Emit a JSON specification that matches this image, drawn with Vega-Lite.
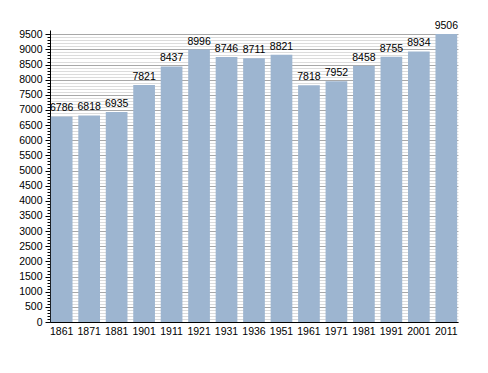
{
  "$schema": "https://vega.github.io/schema/vega-lite/v6.json",
  "autosize": "none",
  "width": 408,
  "height": 292,
  "padding": {"left": 50, "top": 30, "right": 30, "bottom": 51},
  "background": "white",
  "config": {"view": {"stroke": null}, "font": "Liberation Sans"},
  "data": {"values": [
    {"year": "1861", "pop": 6786},
    {"year": "1871", "pop": 6818},
    {"year": "1881", "pop": 6935},
    {"year": "1901", "pop": 7821},
    {"year": "1911", "pop": 8437},
    {"year": "1921", "pop": 8996},
    {"year": "1931", "pop": 8746},
    {"year": "1936", "pop": 8711},
    {"year": "1951", "pop": 8821},
    {"year": "1961", "pop": 7818},
    {"year": "1971", "pop": 7952},
    {"year": "1981", "pop": 8458},
    {"year": "1991", "pop": 8755},
    {"year": "2001", "pop": 8934},
    {"year": "2011", "pop": 9506}
  ]},
  "encoding": {
    "x": {"field": "year", "type": "ordinal", "sort": null,
      "scale": {"paddingInner": 0.21, "paddingOuter": 0.03},
      "axis": {"title": null, "labelAngle": 0, "labelFontSize": 10.5, "labelColor": "#000", "domainColor": "#000", "ticks": false, "labelPadding": 4}},
    "y": {"field": "pop", "type": "quantitative",
      "scale": {"domain": [0, 9640], "nice": false},
      "axis": {"title": null,
        "values": [0,100,200,300,400,500,600,700,800,900,1000,1100,1200,1300,1400,1500,1600,1700,1800,1900,2000,2100,2200,2300,2400,2500,2600,2700,2800,2900,3000,3100,3200,3300,3400,3500,3600,3700,3800,3900,4000,4100,4200,4300,4400,4500,4600,4700,4800,4900,5000,5100,5200,5300,5400,5500,5600,5700,5800,5900,6000,6100,6200,6300,6400,6500,6600,6700,6800,6900,7000,7100,7200,7300,7400,7500,7600,7700,7800,7900,8000,8100,8200,8300,8400,8500,8600,8700,8800,8900,9000,9100,9200,9300,9400,9500],
        "labelExpr": "datum.value % 500 === 0 ? datum.label : ''",
        "format": "d",
        "labelFontSize": 10.5, "labelColor": "#000",
        "domainColor": "#000",
        "tickColor": "#000",
        "tickSize": {"condition": {"test": "datum.value % 500 === 0", "value": 5}, "value": 3},
        "grid": true,
        "gridColor": {"condition": {"test": "datum.value % 500 === 0", "value": "#a8a8a8"}, "value": "#dcdcdc"},
        "labelPadding": 3}}
  },
  "layer": [
    {"mark": {"type": "bar", "color": "#9db5d0"}},
    {"mark": {"type": "text", "baseline": "bottom", "dy": -3, "fontSize": 10.5, "color": "#000"},
      "encoding": {"text": {"field": "pop", "type": "quantitative", "format": "d"}}}
  ]
}
